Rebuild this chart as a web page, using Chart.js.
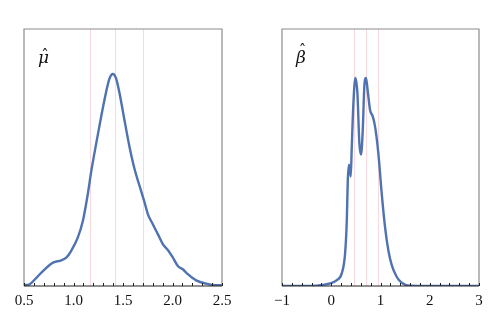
<!DOCTYPE html>
<html>
<head>
<meta charset="utf-8">
<script src="https://cdn.jsdelivr.net/npm/chart.js@4.4.1/dist/chart.umd.min.js"></script>
<style>
  html, body { margin: 0; padding: 0; background: #fff; }
  .wrap { position: relative; width: 498px; height: 336px; }
  .panel { position: absolute; top: 0; width: 249px; height: 336px; }
</style>
</head>
<body>
<div class="wrap">
  <div class="panel" style="left:0"><canvas id="muChart"></canvas></div>
  <div class="panel" style="left:249px"><canvas id="betaChart"></canvas></div>
</div>
<script>
// densidade de mu-hat (escala relativa)
const muX = [0.5, 0.557, 0.625, 0.709, 0.793, 0.877, 0.927, 0.977, 1.044, 1.095, 1.145, 1.178, 1.229, 1.279, 1.33, 1.364, 1.397, 1.43, 1.465, 1.515, 1.566, 1.616, 1.666, 1.717, 1.751, 1.8, 1.852, 1.902, 1.953, 2.003, 2.054, 2.104, 2.155, 2.239, 2.34, 2.441, 2.5];
const muY = [0.003, 0.007, 0.032, 0.065, 0.091, 0.10, 0.11, 0.137, 0.189, 0.254, 0.359, 0.443, 0.554, 0.658, 0.756, 0.808, 0.825, 0.808, 0.75, 0.645, 0.541, 0.456, 0.391, 0.326, 0.28, 0.241, 0.202, 0.163, 0.14, 0.111, 0.078, 0.065, 0.046, 0.022, 0.009, 0.003, 0.003];
const muLines = [1.17, 1.42, 1.70];

// densidade de beta-hat
const betaX = [-1, -0.6, -0.29, -0.19, -0.022, 0.113, 0.215, 0.281, 0.316, 0.336, 0.362, 0.396, 0.417, 0.45, 0.49, 0.531, 0.571, 0.605, 0.64, 0.672, 0.706, 0.741, 0.787, 0.842, 0.889, 0.956, 1.024, 1.091, 1.158, 1.227, 1.328, 1.429, 1.597, 2.0, 2.5, 3];
const betaY = [0, 0, 0.001, 0.004, 0.01, 0.023, 0.05, 0.127, 0.257, 0.413, 0.472, 0.426, 0.543, 0.712, 0.81, 0.751, 0.556, 0.511, 0.608, 0.777, 0.81, 0.758, 0.686, 0.66, 0.621, 0.517, 0.361, 0.231, 0.14, 0.082, 0.036, 0.013, 0.001, 0, 0, 0];
const betaLines = [0.47, 0.70, 0.95];

const lineColor = '#4f72b1';
const refColor = 'rgba(245, 190, 200, 0.6)';

// moldura, linhas de referência, ticks internos e rótulo
const panelPlugin = {
    id: 'panelDeco',
    beforeDatasetsDraw(chart, args, opts) {
        const ctx = chart.ctx;
        const a = chart.chartArea;
        const xs = chart.scales.x;
        ctx.save();
        ctx.strokeStyle = refColor;
        ctx.lineWidth = 1;
        opts.refs.forEach(v => {
            const px = Math.round(xs.getPixelForValue(v)) + 0.5;
            ctx.beginPath();
            ctx.moveTo(px, a.top);
            ctx.lineTo(px, a.bottom);
            ctx.stroke();
        });
        ctx.restore();
    },
    afterDraw(chart, args, opts) {
        const ctx = chart.ctx;
        const a = chart.chartArea;
        const xs = chart.scales.x;
        ctx.save();
        ctx.strokeStyle = '#8c8c8c';
        ctx.lineWidth = 1.2;
        ctx.beginPath();
        ctx.moveTo(a.left, a.bottom);
        ctx.lineTo(a.left, a.top);
        ctx.lineTo(a.right, a.top);
        ctx.lineTo(a.right, a.bottom);
        ctx.stroke();
        ctx.strokeStyle = '#222';
        ctx.beginPath();
        ctx.moveTo(a.left, a.bottom);
        ctx.lineTo(a.right, a.bottom);
        ctx.stroke();
        // ticks menores para dentro
        ctx.lineWidth = 1;
        const n = Math.round((xs.max - xs.min) / opts.minor);
        for (let i = 0; i <= n; i++) {
            const v = xs.min + i * opts.minor;
            const px = Math.round(xs.getPixelForValue(v)) + 0.5;
            ctx.beginPath();
            ctx.moveTo(px, a.bottom);
            ctx.lineTo(px, a.bottom - 3);
            ctx.stroke();
        }
        // letra + chapéu desenhado à parte
        ctx.fillStyle = '#111';
        ctx.font = 'italic 17px "DejaVu Serif", serif';
        ctx.textBaseline = 'alphabetic';
        const lx = a.left + 14, ly = a.top + 34;
        ctx.fillText(opts.label, lx, ly);
        const w = ctx.measureText(opts.label).width;
        ctx.font = '15px "DejaVu Serif", serif';
        ctx.textAlign = 'center';
        ctx.fillText('\u02C6', lx + w / 2 + 1.5, ly - opts.hatLift);
        ctx.restore();
    }
};

function makeChart(id, xs, ys, xmin, xmax, step, minor, refs, label, hatLift, pad) {
    const fmt = v => {
        const s = step < 1 ? v.toFixed(1) : String(Math.round(v));
        return s.replace('-', '\u2212');
    };
    return new Chart(document.getElementById(id), {
        type: 'line',
        data: {
            datasets: [{
                data: xs.map((x, i) => ({ x: x, y: ys[i] })),
                borderColor: lineColor,
                borderWidth: 2.4,
                pointRadius: 0,
                cubicInterpolationMode: 'monotone',
                fill: false
            }]
        },
        options: {
            responsive: true,
            maintainAspectRatio: false,
            animation: false,
            layout: { padding: pad },
            plugins: {
                legend: { display: false },
                tooltip: { enabled: false },
                panelDeco: { refs: refs, minor: minor, label: label, hatLift: hatLift }
            },
            scales: {
                x: {
                    type: 'linear',
                    min: xmin,
                    max: xmax,
                    border: { display: false },
                    grid: { display: false, drawTicks: false },
                    ticks: {
                        stepSize: step,
                        padding: 6,
                        color: '#111',
                        maxRotation: 0,
                        autoSkip: false,
                        font: { family: '"Liberation Serif", serif', size: 15 },
                        callback: v => fmt(v)
                    }
                },
                y: { display: false, min: 0, max: 1 }
            }
        },
        plugins: [panelPlugin]
    });
}

document.addEventListener('DOMContentLoaded', function() {
    makeChart('muChart', muX, muY, 0.5, 2.5, 0.5, 0.1, muLines, 'μ', 3,
        { left: 24, right: 27, top: 29, bottom: 20 });
    makeChart('betaChart', betaX, betaY, -1, 3, 1, 0.2, betaLines, 'β', 8,
        { left: 33, right: 19, top: 29, bottom: 20 });
});
</script>
</body>
</html>
